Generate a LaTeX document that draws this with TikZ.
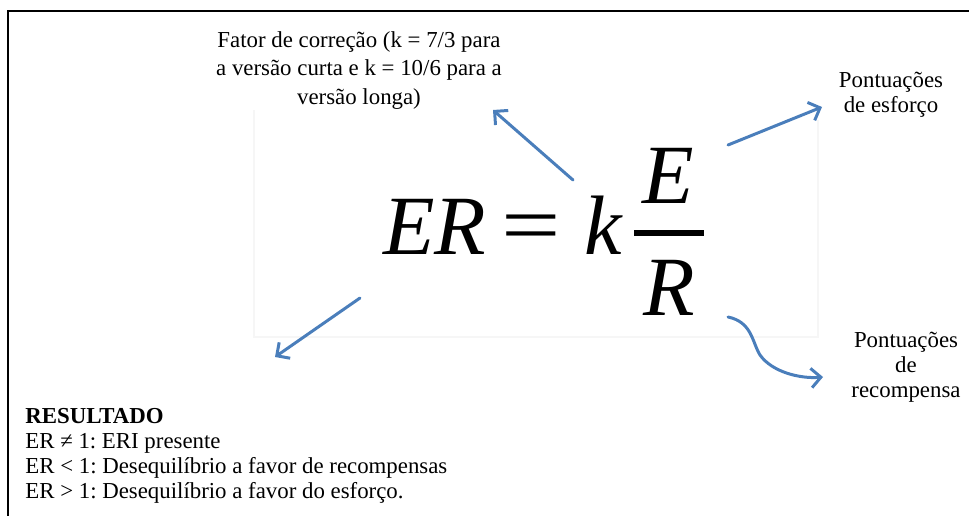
\documentclass[tikz,border=0pt]{standalone}
\usepackage{fontspec}
\usepackage{graphicx}
\setmainfont{Liberation Serif}
\usetikzlibrary{arrows.meta}
\frenchspacing
\definecolor{arrowBlue}{RGB}{74,126,187}
\definecolor{imageEdge}{RGB}{246,246,246}
\tikzset{
  labelText/.style={inner sep=0pt,align=center,font=\fontsize{13}{14.2}\selectfont},
  formulaText/.style={inner sep=0pt,font=\fontsize{48}{48}\selectfont\itshape},
  pointer/.style={draw=arrowBlue,line width=1.7pt,line cap=round,-{Straight Barb[length=5.5pt,width=11pt]}}
}

\begin{document}
\begin{tikzpicture}[x=0.02cm,y=-0.02cm]
\useasboundingbox (0,0) rectangle (969,516);
\clip (0,0) rectangle (969,516);
\draw[line width=1.3pt] (8,530) -- (8,11) -- (980,11);
\draw[imageEdge,line width=0.6pt] (254,110) -- (254,337) -- (818,337) -- (818,120);

\node[formulaText,anchor=base west] (er) at (383,255) {ER};
\node[inner sep=0pt,font=\fontsize{48}{48}\selectfont] (eq) at (531,234) {\scalebox{1.25}[1]{=}};
\node[formulaText,anchor=base] (kfac) at (603,255) {k};
\node[formulaText,anchor=base] (num) at (668,204) {E};
\node[formulaText,anchor=base] (den) at (669,316) {R};
\coordinate (barL) at (634,233);
\coordinate (barR) at (704,233);
\draw[line width=3pt] (barL) -- (barR);

\node[labelText,anchor=north,font=\fontsize{13}{16.2}\selectfont] (fator) at (359,31) {Fator de correção (k = 7/3 para\\a versão curta e k = 10/6 para a\\versão longa)};
\node[labelText,anchor=north] (esforco) at (891,72) {Pontuações\\de esforço};
\node[labelText,anchor=north] (recomp) at (906,332) {Pontuações\\de\\recompensa};
\node[labelText,anchor=north west,align=left] (result) at (25,408) {\textbf{RESULTADO}\\ER ≠ 1: ERI presente\\ER < 1: Desequilíbrio a favor de recompensas\\ER > 1: Desequilíbrio a favor do esforço.};

\coordinate (kTail) at (573,180);
\coordinate (kHead) at (493,110);
\coordinate (eTail) at (728,145);
\coordinate (eHead) at (822,107);
\coordinate (rTail) at (728,317);
\coordinate (rHead) at (823,377);
\coordinate (resTail) at (360,298);
\coordinate (resHead) at (275,357);

\draw[pointer] (kTail) -- (kHead);
\draw[pointer] (eTail) -- (eHead);
\draw[pointer] (resTail) -- (resHead);
\draw[pointer] (rTail) .. controls (752,322) and (752,342) .. (760,355) .. controls (772,372) and (800,379) .. (rHead);
\end{tikzpicture}
\end{document}
